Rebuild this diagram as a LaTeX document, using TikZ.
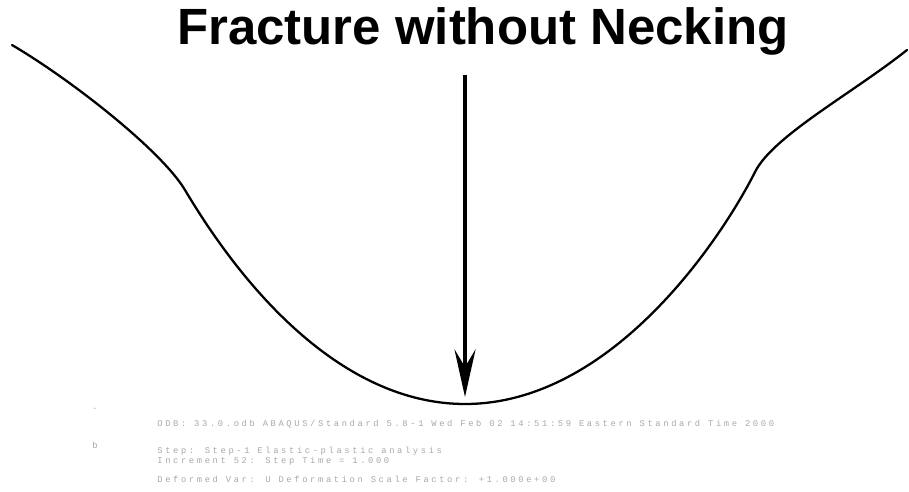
\documentclass[tikz,border=0pt]{standalone}
\usepackage{fontspec}
\setmainfont{Liberation Sans}
\newfontfamily\plotfont[LetterSpace=30]{Liberation Mono}
\usetikzlibrary{arrows.meta}
\definecolor{faint}{HTML}{A8A8A8}

\begin{document}
\begin{tikzpicture}[x=0.02cm, y=-0.02cm,
      titel/.style={font=\fontsize{29}{32}\selectfont\bfseries, anchor=base, inner sep=0pt},
      kurve/.style={black, line width=1.3pt, line cap=round},
      pfeil/.style={-{Stealth[length=0.95cm, width=0.42cm, inset=0.35cm]}, line width=2.8pt},
      fuss/.style={faint, font=\plotfont\fontsize{5}{6}\selectfont, anchor=base west, inner sep=0pt}]
    \useasboundingbox (0,0) rectangle (909,492);
    \node[titel] (titel) at (483,45) {Fracture without Necking};
    % fracture surface profile
    \coordinate (links) at (12,45);
    \coordinate (wendeL) at (185,190);
    \coordinate (grund) at (465,404);
    \coordinate (wendeR) at (755,172);
    \coordinate (rechts) at (907,50);
    \draw[kurve] (links) .. controls (70,79) and (161,150) .. (wendeL)
      .. controls (257,311) and (355,404) .. (grund)
      .. controls (615,404) and (725,232) .. (wendeR)
      .. controls (773,136) and (853,93) .. (rechts);
    \coordinate (oben) at (465,75);
    \coordinate (spitze) at (465,397);
    \draw[pfeil] (oben) -- (spitze);
    % plot footer
    \node[fuss] (m1) at (92,410) {.};
    \node[fuss] (m2) at (92,449) {b};
    \node[fuss] (z1) at (157,427) {ODB: 33.0.odb ABAQUS/Standard 5.8-1 Wed Feb 02 14:51:59 Eastern Standard Time 2000};
    \node[fuss] (z2) at (157,454) {Step: Step-1 Elastic-plastic analysis};
    \node[fuss] (z3) at (157,464) {Increment 52: Step Time = 1.000};
    \node[fuss] (z4) at (157,483) {Deformed Var: U Deformation Scale Factor: +1.000e+00};
  \end{tikzpicture}
\end{document}
